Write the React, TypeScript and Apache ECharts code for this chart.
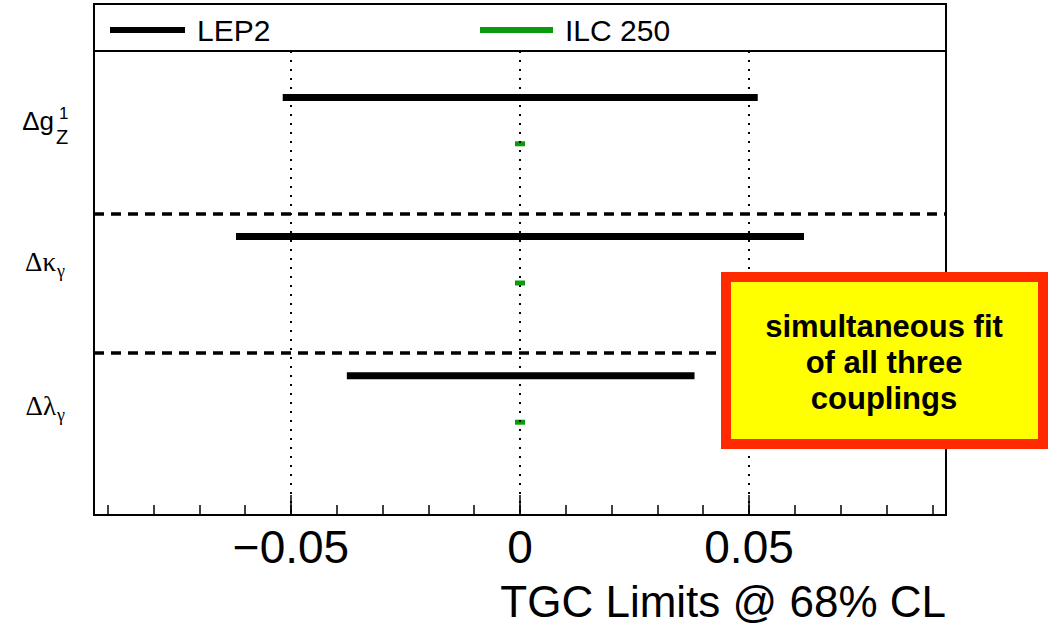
import React, { useEffect, useRef } from "react";
import * as echarts from "echarts";

// ---- data ----
const couplingNames = ["Δg_Z^1", "Δκ_γ", "Δλ_γ"];
const labelRows = [1.5, 4.55, 7.65];
const lep2Low = [-0.0518, -0.062, -0.0378];
const lep2High = [0.0519, 0.062, 0.0381];
const lep2Rows = [1, 4, 7];
const ilcLow = [-0.0011, -0.0011, -0.0011];
const ilcHigh = [0.0011, 0.0011, 0.0011];
const ilcRows = [2, 5, 8];
const separatorRows = [3.5, 6.5];
const referenceLines = [-0.05, 0, 0.05];
const majorTicks = [-0.05, 0, 0.05];
const minorTicks = [
  -0.09, -0.08, -0.07, -0.06, -0.05, -0.04, -0.03, -0.02, -0.01, 0,
  0.01, 0.02, 0.03, 0.04, 0.05, 0.06, 0.07, 0.08, 0.09,
];
const xMin = -0.093;
const xMax = 0.093;
const yMin = 0;
const yMax = 10;
const seriesNames = ["LEP2", "ILC 250"];
const axisTitle = "TGC Limits @ 68% CL";
const noteText = "simultaneous fit\nof all three\ncouplings";

const SANS = "'Liberation Sans', Arial, Helvetica, sans-serif";
const SERIF = "'Liberation Serif', 'Times New Roman', serif";

function barRenderer(height: number) {
  return (params: any, api: any) => {
    const lo = api.coord([api.value(0), api.value(2)]);
    const hi = api.coord([api.value(1), api.value(2)]);
    return {
      type: "rect",
      shape: { x: lo[0], y: lo[1] - height / 2, width: hi[0] - lo[0], height },
      style: { fill: api.visual("color") },
    };
  };
}

function txt(text: string, x: number, y: number, size: number, family: string, align: string) {
  return {
    type: "text",
    x,
    y,
    style: {
      text,
      fontSize: size,
      fontFamily: family,
      fill: "#000",
      align,
      textAlign: align,
      verticalAlign: "middle",
      textVerticalAlign: "middle",
    },
  };
}

function labelRenderer(params: any, api: any) {
  const idx = api.value(2);
  const p = api.coord([api.value(0), api.value(1)]);
  const x0 = p[0];
  const cy = p[1];
  const name = couplingNames[idx];
  const [mainPart, rest] = name.split("_");
  const [sub, sup] = rest.split("^");
  const children: any[] = [];
  if (sup) {
    children.push(txt(mainPart, x0 - 40, cy, 26, SANS, "right"));
    children.push(txt(sup, x0 - 35, cy - 7, 17, SANS, "left"));
    children.push(txt(sub, x0 - 38, cy + 16, 20, SANS, "left"));
  } else {
    children.push(txt(mainPart, x0 - 38, cy, 27, SERIF, "right"));
    children.push(txt(sub, x0 - 37, cy + 9, 18, SERIF, "left"));
  }
  return { type: "group", children };
}

export default function App() {
  const ref = useRef<HTMLDivElement>(null);
  useEffect(() => {
    if (!ref.current) return;
    const chart = echarts.init(ref.current, undefined, { renderer: "svg" });
    const lep2Data = lep2Low.map((lo, i) => [lo, lep2High[i], lep2Rows[i]]);
    const ilcData = ilcLow.map((lo, i) => [lo, ilcHigh[i], ilcRows[i]]);
    const labelData = labelRows.map((r, i) => [xMin, r, i]);
    const gridBox = { left: 94, top: 51, width: 852, height: 464 };
    const legendBase = {
      top: 15,
      padding: 0,
      icon: "rect",
      itemHeight: 6,
      selectedMode: false,
      textStyle: { fontSize: 30, fontFamily: SANS, color: "#000", padding: [0, 0, 0, 7] },
    };
    const option: any = {
      animation: false,
      backgroundColor: "#fff",
      grid: [
        { ...gridBox, show: true, borderColor: "#000", borderWidth: 2, backgroundColor: "transparent" },
        { ...gridBox, show: false },
      ],
      legend: [
        { ...legendBase, data: [seriesNames[0]], left: 110, itemWidth: 75 },
        { ...legendBase, data: [seriesNames[1]], left: 480, itemWidth: 73 },
      ],
      xAxis: [
        {
          type: "value",
          gridIndex: 0,
          min: xMin,
          max: xMax,
          position: "bottom",
          axisLine: { show: true, onZero: false, lineStyle: { color: "#000", width: 2 } },
          axisTick: {
            show: true,
            inside: true,
            length: 10,
            customValues: minorTicks,
            lineStyle: { color: "#000", width: 1.5 },
          },
          axisLabel: {
            customValues: majorTicks,
            formatter: (v: number) => (v === 0 ? "0" : v < 0 ? "−" + Math.abs(v) : String(v)),
            fontSize: 46,
            fontFamily: SANS,
            color: "#000",
            margin: 9,
          },
          splitLine: { show: false },
          name: axisTitle,
          nameLocation: "end",
          nameGap: 0,
          nameTextStyle: {
            fontSize: 44,
            fontFamily: SANS,
            color: "#000",
            align: "right",
            verticalAlign: "top",
            padding: [64, 0, 0, 0],
          },
        },
        {
          type: "value",
          gridIndex: 1,
          min: xMin,
          max: xMax,
          position: "bottom",
          axisLine: { show: false, onZero: false },
          axisTick: {
            show: true,
            inside: true,
            length: 20,
            customValues: majorTicks,
            lineStyle: { color: "#000", width: 1.5 },
          },
          axisLabel: { show: false },
          splitLine: { show: false },
        },
      ],
      yAxis: [
        {
          type: "value",
          gridIndex: 0,
          min: yMin,
          max: yMax,
          inverse: true,
          axisLine: { show: true, onZero: false, lineStyle: { color: "#000", width: 2 } },
          axisTick: { show: false },
          axisLabel: { show: false },
          splitLine: { show: false },
        },
        {
          type: "value",
          gridIndex: 1,
          min: yMin,
          max: yMax,
          inverse: true,
          show: false,
          axisLine: { onZero: false },
        },
      ],
      series: [
        {
          name: seriesNames[0],
          type: "custom",
          xAxisIndex: 0,
          yAxisIndex: 0,
          color: "#000",
          itemStyle: { color: "#000" },
          encode: { x: [0, 1], y: 2 },
          renderItem: barRenderer(7),
          data: lep2Data,
          z: 3,
          markLine: {
            silent: true,
            symbol: ["none", "none"],
            label: { show: false },
            emphasis: { disabled: true },
            data: [
              ...referenceLines.map((v) => [
                { coord: [v, yMin], lineStyle: { type: [2, 7], width: 2, color: "#000" } },
                { coord: [v, yMax] },
              ]),
              ...separatorRows.map((r) => [
                { coord: [xMin, r], lineStyle: { type: [10, 7], width: 3.5, color: "#000" } },
                { coord: [xMax, r] },
              ]),
            ],
          },
        },
        {
          name: seriesNames[1],
          type: "custom",
          xAxisIndex: 0,
          yAxisIndex: 0,
          color: "#0b9a0b",
          itemStyle: { color: "#0b9a0b" },
          encode: { x: [0, 1], y: 2 },
          renderItem: barRenderer(5),
          data: ilcData,
          z: 4,
        },
        {
          name: "labels",
          type: "custom",
          xAxisIndex: 0,
          yAxisIndex: 0,
          clip: false,
          silent: true,
          encode: { x: 0, y: 1 },
          renderItem: labelRenderer,
          data: labelData,
        },
      ],
      graphic: [
        {
          type: "rect",
          shape: { x: 94, y: 4, width: 852, height: 47 },
          style: { fill: "none", stroke: "#000", lineWidth: 2 },
          z: 10,
        },
        {
          type: "rect",
          shape: { x: 726, y: 277, width: 317, height: 167 },
          style: { fill: "#ffff00", stroke: "#ff2a00", lineWidth: 10 },
          z: 20,
        },
        {
          type: "text",
          x: 884,
          y: 362,
          z: 21,
          style: {
            text: noteText,
            fontSize: 31,
            fontWeight: "bold",
            fontFamily: SANS,
            lineHeight: 36,
            fill: "#000",
            align: "center",
            textAlign: "center",
            verticalAlign: "middle",
            textVerticalAlign: "middle",
          },
        },
      ],
    };
    chart.setOption(option);
    return () => chart.dispose();
  }, []);
  return (
    <div
      ref={ref}
      style={{ position: "fixed", left: 0, top: 0, width: 1048, height: 624, background: "#fff" }}
    />
  );
}
